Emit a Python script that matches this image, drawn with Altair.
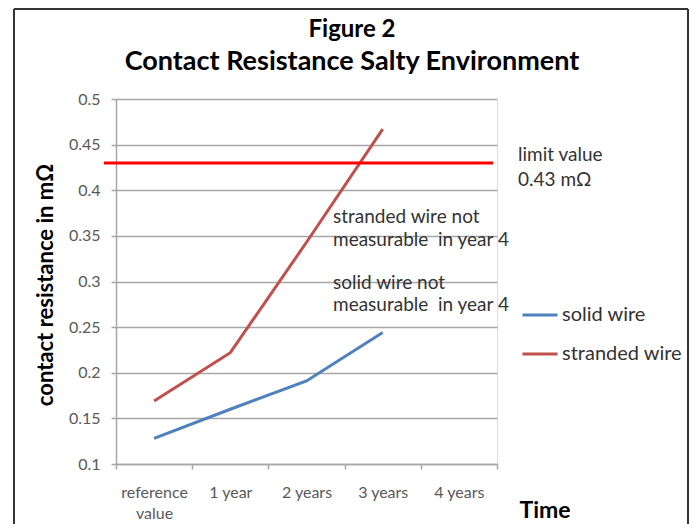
import altair as alt
import pandas as pd

categories = ["reference value", "1 year", "2 years", "3 years", "4 years"]
solid_wire = [0.128, 0.160, 0.191, 0.244]
stranded_wire = [0.169, 0.222, 0.343, 0.467]
series_names = ["solid wire", "stranded wire"]
limit_value = 0.43
y_ticks = [0.1, 0.15, 0.2, 0.25, 0.3, 0.35, 0.4, 0.45, 0.5]

rows = []
for c, v in zip(categories, solid_wire):
    rows.append({"time": c, "value": v, "series": series_names[0]})
for c, v in zip(categories, stranded_wire):
    rows.append({"time": c, "value": v, "series": series_names[1]})
df = pd.DataFrame(rows)

FONT = "Lato"
W, H = 381, 365

x_enc = alt.X(
    "time:N",
    scale=alt.Scale(domain=categories, paddingInner=0, paddingOuter=0),
    sort=categories,
    axis=alt.Axis(
        title=None, grid=False, tickBand="extent", tickSize=5, tickColor="#a6a6a6",
        domainColor="#a6a6a6", domainWidth=1.5, tickWidth=1.5,
        labelAngle=0, labelFont=FONT, labelFontSize=16, labelColor="#595959",
        labelPadding=15, labelLineHeight=21,
        labelExpr="datum.value == 'reference value' ? ['reference', 'value'] : datum.value",
    ),
)
y_enc = alt.Y(
    "value:Q",
    scale=alt.Scale(domain=[0.1, 0.5], nice=False, zero=False),
    axis=alt.Axis(
        title=None, values=y_ticks, grid=True, gridColor="#a6a6a6", gridWidth=1.5,
        tickSize=5, tickColor="#a6a6a6", tickWidth=1.5, domainColor="#a6a6a6", domainWidth=1.5,
        labelFont=FONT, labelFontSize=16, labelColor="#595959", labelPadding=11,
        labelExpr="datum.value == 0.1 ? '0.1' : format(datum.value, '.2~f')",
    ),
)

lines = alt.Chart(df).mark_line(strokeWidth=3).encode(
    x=x_enc,
    y=y_enc,
    color=alt.Color(
        "series:N",
        scale=alt.Scale(domain=series_names, range=["#4f81bd", "#c0504d"]),
        legend=alt.Legend(
            title=None, orient="none", legendX=405, legendY=197,
            symbolType="stroke", symbolSize=1225, symbolStrokeWidth=3,
            labelFont=FONT, labelFontSize=20, labelColor="#333333",
            labelOffset=3, rowPadding=10,
        ),
    ),
    detail="series:N",
)

limit_df = pd.DataFrame({"limit": [limit_value]})
limit = alt.Chart(limit_df).mark_rule(color="#ff0000", strokeWidth=3).encode(
    y=alt.Y("limit:Q", scale=alt.Scale(domain=[0.1, 0.5], nice=False, zero=False)),
    x=alt.value(-12),
    x2=alt.value(377),
)

ann_df = pd.DataFrame({
    "text": ["limit value", "0.43 mΩ", "stranded wire not", "measurable\u00a0 in year 4",
             "solid wire not", "measurable\u00a0 in year 4"],
    "px": [402, 402, 217, 217, 217, 217],
    "py": [56, 81, 118, 141, 184, 206],
})
annotations = alt.Chart(ann_df).mark_text(
    align="left", baseline="middle", font=FONT, fontSize=19, color="#333333"
).encode(
    x=alt.X("px:Q", scale=None),
    y=alt.Y("py:Q", scale=None),
    text="text:N",
)

title_df = pd.DataFrame({
    "text": ["Figure 2", "Contact Resistance Salty Environment"],
    "px": [236, 236],
    "py": [-69, -37],
    "fs": [24, 27],
})
titles = alt.Chart(title_df).mark_text(
    align="center", baseline="middle", font=FONT, fontWeight="bold", color="#000000"
).encode(
    x=alt.X("px:Q", scale=None),
    y=alt.Y("py:Q", scale=None),
    size=alt.Size("fs:Q", scale=None, legend=None),
    text="text:N",
)

ytitle = alt.Chart(pd.DataFrame({"t": ["contact resistance in mΩ"]})).mark_text(
    angle=270, align="center", baseline="middle", font=FONT, fontSize=22,
    fontWeight="bold", color="#000000"
).encode(x=alt.value(-70), y=alt.value(186), text="t:N")

xtitle = alt.Chart(pd.DataFrame({"t": ["Time"]})).mark_text(
    align="center", baseline="middle", font=FONT, fontSize=23,
    fontWeight="bold", color="#000000"
).encode(x=alt.value(429), y=alt.value(412), text="t:N")

border_left = alt.Chart(pd.DataFrame({"a": [0]})).mark_rule(color="#333333", strokeWidth=2).encode(
    x=alt.value(-102), y=alt.value(-90), y2=alt.value(440)
)
border_top = alt.Chart(pd.DataFrame({"a": [0]})).mark_rule(color="#333333", strokeWidth=2).encode(
    x=alt.value(-102), x2=alt.value(572), y=alt.value(-90)
)
border_right = alt.Chart(pd.DataFrame({"a": [0]})).mark_rule(color="#333333", strokeWidth=2).encode(
    x=alt.value(572), y=alt.value(-90), y2=alt.value(440)
)

chart = alt.layer(
    lines, limit, annotations, titles, ytitle, xtitle, border_left, border_top, border_right
).properties(
    width=W, height=H,
    autosize=alt.AutoSizeParams(type="none"),
    padding={"left": 108, "top": 91, "right": 192, "bottom": 60},
).configure_view(stroke=None).configure(background="white")

chart.save("out.html", embed_options={"renderer": "svg", "actions": False})
